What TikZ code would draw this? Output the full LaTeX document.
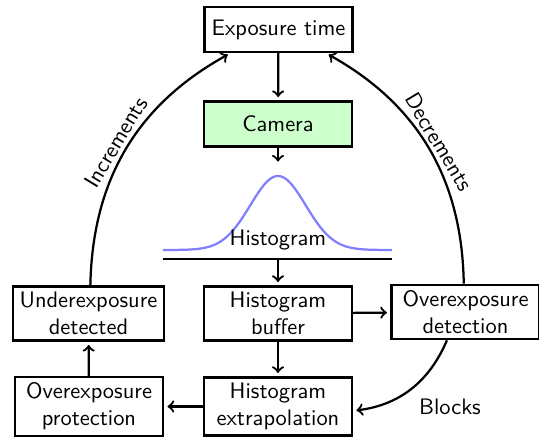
\documentclass[tikz,border=0pt]{standalone}
\usetikzlibrary{arrows}
\begin{document}
\begin{tikzpicture}[x=0.446pt,y=0.446pt,
  box/.style={draw, line width=1pt, font=\sffamily, align=center, minimum width=66pt, minimum height=20pt, inner xsep=3pt, inner ysep=2.5pt},
  arr/.style={->, line width=1pt, shorten >=1.5pt},
  lbl/.style={font=\sffamily}]
\useasboundingbox (0,0) rectangle (539,439);
\node[box] (exp) at (278.5,409.5) {Exposure time};
\node[box, fill=green!20] (cam) at (278,315) {Camera};
\coordinate (camend) at (278,274);
\draw[blue!50, line width=1pt, domain=163:392, samples=120, smooth] plot (\x, {189+74*exp(-((\x-278)/27.6)^2/2)});
\node[lbl] (hist) at (278,199) {Histogram};
\coordinate (hl) at (163,180);
\coordinate (hr) at (392,180);
\coordinate (hm) at (278,180);
\draw[line width=1pt] (hl) -- (hr);
\node[box] (buf) at (278,125.5) {Histogram\\buffer};
\node[box] (under) at (88.5,125.5) {Underexposure\\detected};
\node[box] (det) at (465.5,127) {Overexposure\\detection};
\node[box] (prot) at (89,32.5) {Overexposure\\protection};
\node[box] (extra) at (278,32.5) {Histogram\\extrapolation};
\draw[arr] (exp) -- (cam);
\draw[arr] (cam) -- (camend);
\draw[arr] (hm) -- (buf);
\draw[arr] (buf) -- (det);
\draw[arr] (buf) -- (extra);
\draw[arr] (extra) -- (prot);
\draw[arr] (prot) -- (under);
\draw[arr] (under) to[bend left=30] node[lbl, midway, sloped, above, inner sep=1.5pt] {Increments} (exp);
\draw[arr] (det) to[bend right=30] node[lbl, midway, sloped, above, inner sep=1.5pt] {Decrements} (exp);
\draw[arr] (det) to[bend left=30] (extra);
\node[lbl] (blocks) at (450,32) {Blocks};
\end{tikzpicture}
\end{document}
